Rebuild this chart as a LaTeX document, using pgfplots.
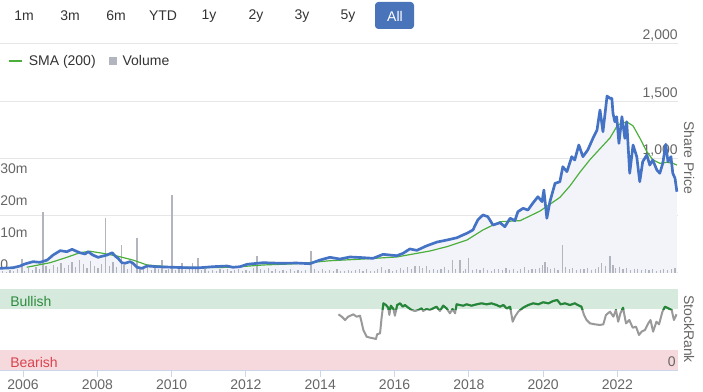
\documentclass[border=0pt]{standalone}
\usepackage{pgfplots}
\usepackage{pgfplotstable}
\pgfplotsset{compat=1.18}
\usepackage{fontspec}
\setmainfont{Liberation Sans}
\definecolor{pricecol}{RGB}{68,114,196}
\definecolor{smacol}{RGB}{76,175,60}
\definecolor{volcol}{RGB}{178,180,190}
\definecolor{areacol}{RGB}{243,244,250}
\definecolor{gridcol}{RGB}{230,230,230}
\definecolor{tickcol}{RGB}{204,214,235}
\definecolor{labcol}{RGB}{102,102,102}
\definecolor{bullband}{RGB}{213,234,220}
\definecolor{bearband}{RGB}{245,217,220}
\definecolor{bulltext}{RGB}{46,139,62}
\definecolor{beartext}{RGB}{217,67,79}
\definecolor{srgray}{RGB}{153,153,153}
\definecolor{srgreen}{RGB}{34,136,56}
\definecolor{btnblue}{RGB}{74,116,186}
\definecolor{btntext}{RGB}{51,51,51}
\pgfplotsset{smaleg/.style={legend image code/.code={\draw[##1] (0pt,0pt) -- (9.5pt,0pt);}}}

\pgfplotstableread{
year price
2005.38 41
2005.73 46
2005.92 61
2006.05 79
2006.27 99
2006.46 93
2006.65 113
2006.81 157
2007.00 195
2007.18 186
2007.32 207
2007.40 195
2007.53 177
2007.67 166
2007.75 186
2007.88 157
2008.02 137
2008.15 148
2008.26 157
2008.40 177
2008.48 148
2008.56 128
2008.66 90
2008.74 85
2008.88 99
2008.96 85
2009.07 50
2009.20 41
2009.34 61
2009.61 55
2010.04 50
2010.41 46
2010.76 46
2011.11 55
2011.49 61
2011.65 50
2011.84 55
2012.03 76
2012.46 90
2012.92 85
2013.37 87
2013.72 81
2013.99 113
2014.26 137
2014.53 122
2014.80 140
2015.15 134
2015.42 128
2015.69 163
2016.06 151
2016.23 172
2016.41 210
2016.60 198
2016.87 238
2017.14 270
2017.41 288
2017.68 308
2017.84 332
2017.95 347
2018.11 376
2018.24 463
2018.38 507
2018.51 492
2018.65 419
2018.84 439
2018.97 404
2019.11 478
2019.24 457
2019.32 535
2019.46 565
2019.59 550
2019.72 609
2019.86 666
2019.97 623
2020.02 725
2020.10 478
2020.18 620
2020.32 783
2020.45 797
2020.53 928
2020.64 885
2020.77 1016
2020.85 987
2020.96 1118
2021.07 1016
2021.20 1074
2021.34 1176
2021.45 1249
2021.53 1424
2021.61 1234
2021.72 1545
2021.80 1526
2021.85 1526
2021.88 1395
2021.93 1321
2021.98 1365
2022.04 1132
2022.12 1365
2022.20 1176
2022.25 1321
2022.33 871
2022.42 1118
2022.52 1016
2022.60 797
2022.68 972
2022.79 1031
2022.87 943
2022.95 987
2023.06 900
2023.14 871
2023.22 958
2023.30 1124
2023.36 972
2023.44 1016
2023.49 871
2023.55 827
2023.60 710
}\pricetable

\pgfplotstableread{
year sma
2006.10 50
2006.73 90
2007.18 137
2007.53 177
2007.80 190
2008.15 172
2008.53 148
2008.96 113
2009.34 70
2009.88 55
2010.76 46
2011.65 50
2012.46 70
2013.37 81
2014.26 107
2015.15 122
2016.06 140
2016.95 192
2017.41 230
2017.95 288
2018.38 376
2018.84 448
2019.38 457
2019.91 540
2020.18 600
2020.45 660
2020.72 760
2020.99 880
2021.26 990
2021.53 1085
2021.80 1180
2022.01 1295
2022.25 1320
2022.42 1285
2022.60 1180
2022.79 1060
2022.95 990
2023.14 958
2023.33 967
2023.49 958
2023.60 943
}\smatable

\pgfplotstableread{
year vol
2005.45 0.6
2005.55 0.4
2005.65 0.9
2005.75 0.5
2005.85 1.2
2005.97 4.4
2006.05 0.7
2006.15 1.5
2006.25 0.9
2006.35 1.8
2006.45 1.1
2006.54 18.9
2006.62 2.2
2006.72 1.4
2006.82 2.6
2006.92 1.8
2007.02 3.1
2007.12 1.6
2007.22 2.4
2007.32 3.4
2007.42 1.9
2007.52 4.2
2007.62 2.8
2007.72 1.5
2007.82 3.6
2007.92 2.2
2008.02 1.7
2008.12 2.9
2008.23 17.2
2008.32 2.1
2008.42 3.3
2008.52 1.8
2008.64 8.7
2008.72 2.6
2008.82 1.4
2008.92 2.9
2009.07 11.0
2009.15 1.9
2009.25 1.2
2009.35 2.3
2009.45 0.9
2009.55 1.6
2009.65 1.1
2009.74 4.1
2009.85 0.8
2009.92 1.3
2010.01 24.3
2010.10 1.0
2010.20 1.5
2010.28 3.0
2010.38 0.9
2010.48 1.4
2010.57 3.0
2010.65 1.1
2010.71 4.6
2010.80 0.8
2010.90 1.2
2011.00 0.7
2011.10 1.0
2011.20 0.6
2011.30 1.3
2011.40 0.8
2011.50 1.1
2011.60 0.5
2011.70 0.9
2011.80 1.4
2011.90 0.6
2012.00 1.0
2012.10 0.7
2012.20 1.6
2012.30 5.4
2012.40 1.2
2012.50 0.8
2012.60 1.5
2012.70 0.6
2012.80 1.1
2012.90 0.5
2013.00 0.9
2013.10 0.7
2013.20 1.3
2013.30 0.6
2013.40 1.0
2013.50 0.5
2013.60 0.8
2013.75 6.8
2013.85 1.2
2013.95 0.7
2014.05 1.1
2014.15 0.5
2014.25 0.9
2014.35 0.6
2014.45 1.3
2014.55 0.7
2014.65 0.5
2014.75 1.0
2014.85 0.6
2014.95 0.8
2015.05 1.4
2015.15 0.6
2015.25 1.1
2015.35 0.7
2015.45 0.5
2015.55 1.2
2015.65 2.0
2015.75 0.8
2015.85 1.3
2015.95 0.6
2016.05 1.0
2016.15 1.6
2016.25 0.9
2016.35 1.9
2016.45 1.3
2016.55 2.1
2016.68 2.3
2016.75 1.5
2016.85 2.2
2016.95 1.0
2017.05 1.4
2017.15 0.8
2017.25 1.2
2017.35 1.9
2017.45 0.9
2017.57 4.1
2017.65 1.1
2017.76 4.1
2017.85 0.7
2017.92 1.2
2018.00 4.6
2018.10 0.9
2018.20 1.3
2018.30 0.8
2018.40 1.6
2018.50 1.0
2018.60 0.7
2018.70 1.4
2018.80 1.1
2018.90 0.8
2019.00 1.5
2019.10 1.0
2019.20 1.3
2019.30 0.7
2019.40 1.2
2019.50 1.8
2019.60 0.9
2019.70 1.4
2019.80 1.1
2019.90 1.7
2019.98 2.4
2020.05 3.5
2020.12 2.0
2020.20 1.3
2020.30 1.6
2020.40 1.0
2020.53 8.6
2020.60 1.8
2020.70 1.2
2020.80 1.5
2020.90 0.9
2021.00 1.4
2021.10 1.1
2021.20 1.7
2021.30 1.0
2021.40 1.3
2021.50 1.9
2021.58 3.0
2021.68 2.2
2021.80 5.4
2021.88 2.6
2021.95 1.5
2022.05 2.0
2022.15 1.3
2022.25 1.7
2022.35 1.0
2022.45 1.4
2022.55 1.1
2022.65 0.8
2022.75 1.2
2022.85 0.9
2022.95 1.1
2023.05 0.7
2023.15 1.0
2023.25 1.3
2023.35 0.8
2023.45 1.2
2023.55 1.6
}\voltable

\pgfplotstableread{
year rank
2014.49 68.7
2014.58 65.8
2014.67 61.7
2014.75 65.8
2014.89 68.7
2014.98 65.8
2015.07 67.0
2015.11 59.6
2015.16 49.4
2015.25 41.1
2015.34 39.9
2015.43 39.1
2015.50 38.3
2015.53 44.0
2015.61 45.3
2015.65 63.8
2015.70 82.3
2015.77 80.2
2015.83 76.9
2015.86 67.9
2015.90 79.4
2015.97 75.3
2016.01 67.0
2016.07 80.2
2016.15 82.3
2016.22 78.2
2016.28 80.2
2016.37 76.9
2016.46 74.1
2016.55 72.8
2016.64 74.1
2016.73 76.1
2016.77 72.8
2016.86 75.3
2016.95 74.1
2017.04 76.1
2017.13 78.2
2017.22 72.8
2017.31 79.4
2017.40 76.1
2017.49 70.0
2017.56 75.3
2017.63 70.0
2017.67 81.1
2017.76 80.2
2017.85 79.4
2017.94 81.1
2018.07 79.4
2018.21 81.1
2018.34 82.3
2018.48 81.1
2018.61 82.3
2018.75 80.2
2018.84 78.2
2018.93 80.2
2019.02 76.0
2019.11 78.2
2019.18 59.6
2019.24 65.8
2019.33 72.0
2019.46 76.9
2019.60 80.2
2019.73 82.3
2019.87 81.1
2020.00 83.6
2020.14 82.3
2020.27 85.2
2020.38 86.4
2020.47 81.1
2020.59 82.3
2020.72 80.2
2020.85 82.3
2020.97 79.4
2021.03 78.2
2021.10 67.9
2021.17 61.7
2021.26 57.6
2021.39 56.4
2021.53 55.6
2021.62 56.4
2021.69 67.9
2021.80 72.0
2021.89 65.8
2021.96 74.1
2022.02 59.6
2022.08 70.0
2022.15 76.9
2022.23 57.6
2022.32 61.7
2022.41 52.2
2022.50 53.5
2022.58 43.2
2022.65 47.3
2022.74 49.4
2022.83 57.6
2022.89 61.7
2022.96 47.3
2023.05 59.6
2023.12 56.4
2023.21 72.0
2023.28 78.2
2023.37 76.1
2023.46 74.1
2023.52 61.7
2023.59 68.7
}\srtable

\begin{document}
\begin{tikzpicture}[font=\fontsize{10.5}{12.6}\selectfont]
\path[use as bounding box] (0,0) rectangle (527.25pt,294pt);

% ---- price background (grid, area, right labels)
\begin{axis}[at={(0pt,261pt)}, anchor=north west, scale only axis,
  width=508.5pt, height=171.75pt,
  xmin=2005.38, xmax=2023.63, ymin=0, ymax=2000,
  axis line style={draw=none}, xtick=\empty,
  ytick={0,500,1000,1500,2000}, yticklabels={0.00,500,{1,000},{1,500},{2,000}},
  yticklabel pos=right, ymajorgrids, grid style={draw=gridcol, line width=0.75pt},
  y tick style={draw=none},
  yticklabel style={anchor=south east, text=labcol, inner sep=0pt, yshift=1.5pt}]
\addplot[fill=areacol, draw=none] table[x=year,y=price]{\pricetable} \closedcycle;
\end{axis}

% ---- volume
\begin{axis}[at={(0pt,261pt)}, anchor=north west, scale only axis,
  width=508.5pt, height=171.75pt,
  xmin=2005.38, xmax=2023.63, ymin=0, ymax=71.5,
  axis line style={draw=none}, xtick=\empty,
  ytick={0,10,20,30}, yticklabels={0,10m,20m,30m},
  yticklabel pos=left, y tick style={draw=none},
  yticklabel style={anchor=south west, text=labcol, inner sep=0pt, yshift=2.5pt}]
\addplot[ycomb, no marks, draw=volcol, line width=0.9pt] table[x=year,y=vol]{\voltable};
\end{axis}

% ---- price and SMA lines
\begin{axis}[at={(0pt,261pt)}, anchor=north west, scale only axis,
  width=508.5pt, height=171.75pt,
  xmin=2005.38, xmax=2023.63, ymin=0, ymax=2000,
  axis line style={draw=none}, xtick=\empty, ytick=\empty,
  legend style={at={(0.0118,0.926)}, anchor=west, draw=none, fill=none,
    inner sep=0pt, legend columns=2, column sep=3pt,
    /tikz/every even column/.append style={column sep=8pt},
    font=\fontsize{10.5}{12.6}\selectfont, text=btntext, cells={anchor=west}}]
\addplot[smacol, line width=0.9pt, no marks, smaleg] table[x=year,y=sma]{\smatable};
\addlegendentry{SMA (200)}
\addplot[pricecol, line width=2pt, no marks, line join=round, forget plot] table[x=year,y=price]{\pricetable};
\addlegendimage{only marks, mark=square*, mark size=2.6pt, color=volcol}
\addlegendentry{Volume}
\end{axis}

% ---- StockRank panel
\begin{axis}[at={(0pt,77.25pt)}, anchor=north west, scale only axis,
  width=508.5pt, height=60.75pt,
  xmin=2005.38, xmax=2023.63, ymin=0, ymax=100,
  axis x line*=bottom, axis y line*=right,
  x axis line style={draw=tickcol, -}, y axis line style={draw=none},
  xtick={2006,2008,2010,2012,2014,2016,2018,2020,2022},
  xticklabels={2006,2008,2010,2012,2014,2016,2018,2020,2022},
  tick align=outside, major tick length=5.25pt,
  x tick style={draw=tickcol, line width=0.75pt},
  xticklabel style={text=labcol, yshift=1.5pt},
  ytick=\empty]
\addplot[fill=bullband, draw=none] coordinates {(2005.38,75) (2023.63,75) (2023.63,100) (2005.38,100)} -- cycle;
\addplot[fill=bearband, draw=none] coordinates {(2005.38,0) (2023.63,0) (2023.63,25) (2005.38,25)} -- cycle;
\addplot[srgray, line width=1.5pt, no marks, line join=round] table[x=year,y=rank]{\srtable};
\end{axis}

% green part of the StockRank line inside the bullish band
\begin{axis}[at={(0pt,77.25pt)}, anchor=north west, scale only axis,
  width=508.5pt, height=15.1875pt,
  xmin=2005.38, xmax=2023.63, ymin=75, ymax=100,
  hide axis, clip=true]
\addplot[srgreen, line width=1.5pt, no marks, line join=round] table[x=year,y=rank]{\srtable};
\end{axis}

\begin{scope}[x=0.75pt, y=-0.75pt, shift={(0pt,294pt)}]
% range selector buttons
\fill[btnblue, rounded corners=2.5pt] (375,2) rectangle (414,29);
\foreach \x/\t in {24/1m,70/3m,116/6m,163/YTD,209/1y,256/2y,302/3y,348/5y}
  \node[text=btntext, inner sep=0pt] at (\x,16) {\t};
\node[text=white, inner sep=0pt] at (395,16) {All};
\node[rotate=-90, text=labcol, inner sep=0pt] at (689,158) {Share Price};
\node[anchor=west, text=bulltext, inner sep=0pt] at (10,301) {Bullish};
\node[anchor=west, text=beartext, inner sep=0pt] at (10,362) {Bearish};
\node[anchor=east, text=labcol, inner sep=0pt] at (676,362) {0};
\node[rotate=-90, text=labcol, inner sep=0pt] at (689,329) {StockRank};
\end{scope}
\end{tikzpicture}
\end{document}
